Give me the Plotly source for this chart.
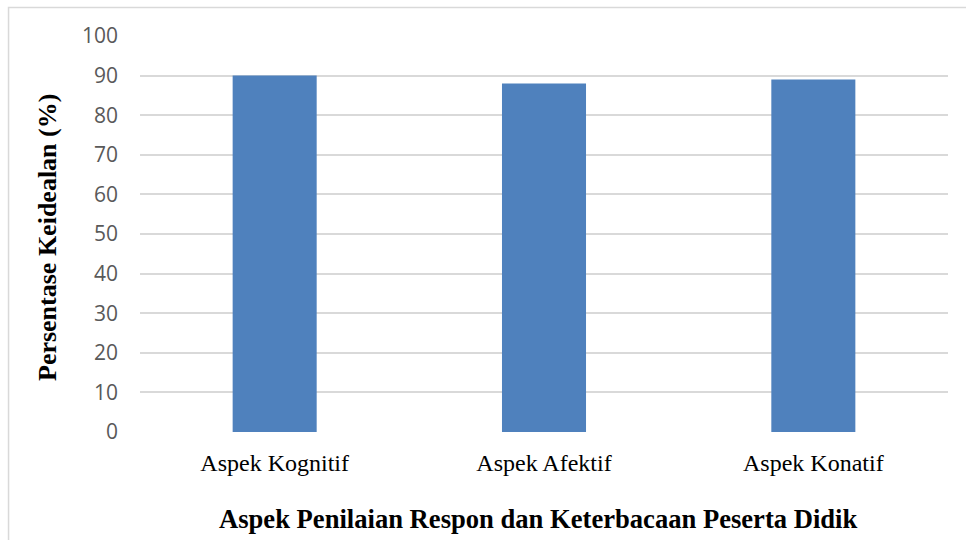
import plotly.graph_objects as go

categories = ["Aspek Kognitif", "Aspek Afektif", "Aspek Konatif"]
values = [90, 88, 89]
y_ticks = [0, 10, 20, 30, 40, 50, 60, 70, 80, 90, 100]

fig = go.Figure(go.Bar(
    x=categories, y=values, width=0.312,
    marker=dict(color="#4F81BD", line=dict(width=0)),
))

fig.update_layout(
    width=966, height=540,
    margin=dict(l=140, r=18, t=36, b=108),
    paper_bgcolor="white", plot_bgcolor="white",
    showlegend=False,
    xaxis=dict(
        showgrid=False, showline=False, zeroline=False,
        tickfont=dict(family="Liberation Serif", size=24, color="black"),
        ticklabelstandoff=14,
    ),
    yaxis=dict(
        range=[0, 100], tickvals=y_ticks,
        showgrid=True, gridcolor="#d9d9d9", gridwidth=1.5,
        zeroline=False, showline=False,
        tickfont=dict(family="Open Sans", size=21, color="#595959"),
        ticklabelstandoff=21,
    ),
    shapes=[dict(type="rect", xref="paper", yref="paper",
                 x0=-0.1627, x1=1.05, y0=-0.3, y1=1.072,
                 line=dict(color="#d9d9d9", width=1.5), fillcolor="rgba(0,0,0,0)", layer="below")],
    annotations=[
        dict(text="<b>Persentase Keidealan (%)</b>", xref="paper", yref="paper",
             x=(47 - 140) / 808, y=(432 - 238) / 396, textangle=-90, showarrow=False,
             font=dict(family="Liberation Serif", size=26, color="black"),
             xanchor="center", yanchor="middle"),
        dict(text="<b>Aspek Penilaian Respon dan Keterbacaan Peserta Didik</b>", xref="paper", yref="paper",
             x=(538 - 140) / 808, y=(432 - 519) / 396, showarrow=False,
             font=dict(family="Liberation Serif", size=26.6, color="black"),
             xanchor="center", yanchor="middle"),
    ],
)

fig.write_html("out.html")
